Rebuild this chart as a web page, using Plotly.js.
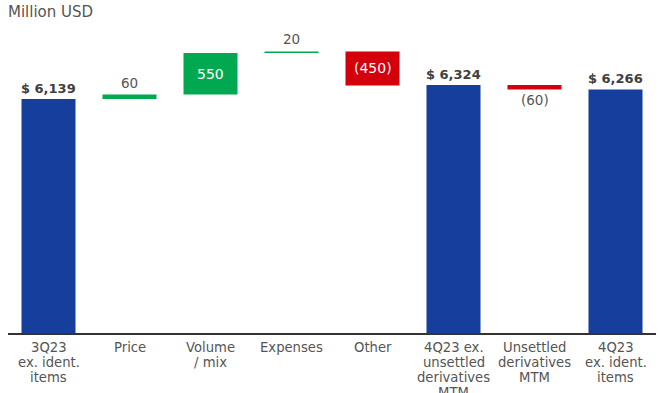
<!DOCTYPE html>
<html>
<head>
<meta charset="utf-8">
<script src="https://cdn.plot.ly/plotly-3.0.1.min.js"></script>
<style>
html,body{margin:0;padding:0;background:#fff;}
#chart{width:663px;height:393px;}
</style>
</head>
<body>
<div id="chart"></div>
<script>
// ---- data ----
const categories = [
  "3Q23<br>ex. ident.<br>items",
  "Price",
  "Volume<br>/ mix",
  "Expenses",
  "Other",
  "4Q23 ex.<br>unsettled<br>derivatives<br>MTM",
  "Unsettled<br>derivatives<br>MTM",
  "4Q23<br>ex. ident.<br>items"
];
const measures = ["absolute","relative","relative","relative","relative","absolute","relative","absolute"];
const values = [6139, 60, 550, 20, -450, 6324, -60, 6266];
const unitLabel = "Million USD";

// ---- colors / styles ----
const BLUE = "#163e9c", GREEN = "#00a94f", RED = "#d3000b", TXT = "#555555";
const FONT = "DejaVu Sans";

let run = 0;
const annotations = [];
values.forEach((v, i) => {
  let lo, hi, label, kind;
  if (measures[i] === "absolute") {
    lo = 0; hi = v; run = v;
    label = "$ " + v.toLocaleString("en-US");
    kind = "total";
  } else {
    lo = Math.min(run, run + v); hi = Math.max(run, run + v);
    run = run + v;
    label = v < 0 ? "(" + Math.abs(v) + ")" : String(v);
    kind = v < 0 ? "neg" : "pos";
  }
  const big = kind !== "total" && Math.abs(v) > 200;
  if (kind === "total") {
    annotations.push({x: categories[i], y: hi, xref: "x", yref: "y", text: label,
      showarrow: false, yanchor: "bottom", yshift: 1,
      font: {family: FONT, size: 13, color: "#404040", weight: 700}});
  } else if (big) {
    annotations.push({x: categories[i], y: (lo + hi) / 2, xref: "x", yref: "y", text: label,
      showarrow: false, yanchor: "middle",
      font: {family: FONT, size: 14, color: "#ffffff"}});
  } else if (kind === "pos") {
    annotations.push({x: categories[i], y: hi, xref: "x", yref: "y", text: label,
      showarrow: false, yanchor: "bottom", yshift: 2,
      font: {family: FONT, size: 13.5, color: TXT}});
  } else {
    annotations.push({x: categories[i], y: lo, xref: "x", yref: "y", text: label,
      showarrow: false, yanchor: "top", yshift: 0,
      font: {family: FONT, size: 13.5, color: TXT}});
  }
});

// category labels, one annotation per line for tight line spacing
categories.forEach((c) => {
  c.split("<br>").forEach((line, k) => {
    annotations.push({x: c, xref: "x", yref: "paper", y: 0, yanchor: "middle",
      yshift: -(14 + 15 * k), text: line, showarrow: false,
      font: {family: FONT, size: 13.2, color: TXT}});
  });
});

annotations.push({xref: "paper", yref: "paper", x: 0, y: 1, xanchor: "left", yanchor: "bottom",
  xshift: -2, yshift: 17, text: unitLabel, showarrow: false,
  font: {family: FONT, size: 15, color: TXT}});

const trace = {
  type: "waterfall",
  x: categories,
  y: values,
  measure: measures,
  increasing: {marker: {color: GREEN}},
  decreasing: {marker: {color: RED}},
  totals: {marker: {color: BLUE}},
  connector: {visible: false},
  textposition: "none",
  hoverinfo: "skip",
  cliponaxis: true
};

const layout = {
  width: 663, height: 393,
  margin: {l: 7.5, r: 6.5, t: 40, b: 60},
  paper_bgcolor: "#ffffff",
  plot_bgcolor: "rgba(0,0,0,0)",
  showlegend: false,
  waterfallgap: 0.333,
  xaxis: {
    type: "category",
    showline: true, linecolor: "#333333", linewidth: 1.5,
    showgrid: false, zeroline: false, ticks: "", showticklabels: false
  },
  yaxis: {
    range: [3040, 6921],
    visible: false, showgrid: false, zeroline: false, fixedrange: true
  },
  annotations: annotations
};

Plotly.newPlot("chart", [trace], layout, {displayModeBar: false, staticPlot: true});
</script>
</body>
</html>
